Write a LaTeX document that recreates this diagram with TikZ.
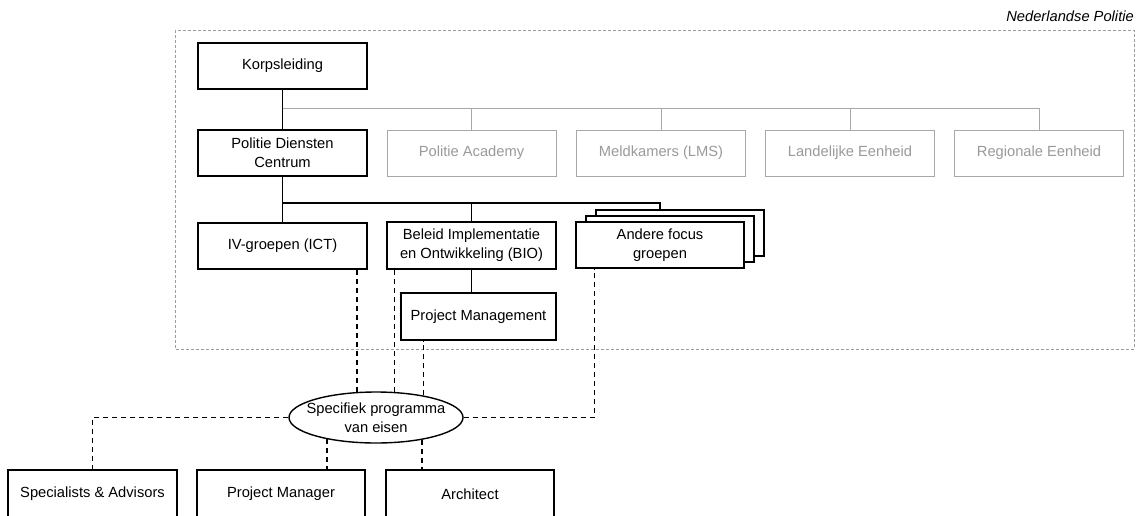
\documentclass[tikz,border=0pt]{standalone}
\usepackage{fontspec}
\setmainfont{Liberation Sans}
\usetikzlibrary{shapes.geometric,calc}
\newcommand\fsz{\fontsize{14.7}{19}\selectfont}
\definecolor{gline}{HTML}{A8A8A8}
\definecolor{gtext}{HTML}{9A9A9A}
\definecolor{frame}{HTML}{9C9C9C}
\tikzset{
  box/.style={draw=black, line width=1.4pt, fill=white, minimum width=169pt, minimum height=46pt, inner sep=0pt, align=center, font=\fsz},
  gbox/.style={box, draw=gline, line width=1pt, text=gtext},
  sline/.style={draw=black, line width=1.3pt},
  gconn/.style={draw=gline, line width=1pt},
  dconn/.style={draw=black, line width=1.6pt, dash pattern=on 5pt off 4pt},
  outer/.style={draw=frame, line width=0.9pt, dash pattern=on 3pt off 2pt}
}
\begin{document}
\begin{tikzpicture}[x=1pt,y=-1pt]
\useasboundingbox (0,0) rectangle (1139,515);
% outer frame
\draw[outer] (175,30) rectangle (1134,349);
\node[anchor=east, inner sep=0pt, font=\fsz\itshape] (np) at (1134,16) {Nederlandse Politie};

% top level
\node[box] (kl) at (282.5,66) {Korpsleiding};
\node[box] (pdc) at (282.5,153) {Politie Diensten\\Centrum};
\node[gbox] (pa) at (471.5,153) {Politie Academy};
\node[gbox] (mk) at (661,153) {Meldkamers (LMS)};
\node[gbox] (le) at (850,153) {Landelijke Eenheid};
\node[gbox] (re) at (1039,153) {Regionale Eenheid};

\coordinate (j1) at (282.5,108);
\draw[sline] (kl.south) -- (pdc.north);
\draw[gconn] (j1) -| (re.north);
\draw[gconn] (pa.north) -- (pa.north |- j1);
\draw[gconn] (mk.north) -- (mk.north |- j1);
\draw[gconn] (le.north) -- (le.north |- j1);

% second level
\node[box] (iv) at (282.5,246) {IV-groepen (ICT)};
\node[box, minimum height=47pt] (bio) at (471.5,245.5) {Beleid Implementatie\\en Ontwikkeling (BIO)};
\node[box, minimum width=168pt] (af3) at (680,233) {};
\node[box, minimum width=168pt] (af2) at (670,239) {};
\node[box, minimum width=168pt] (af) at (660,245) {Andere focus\\groepen};
\node[box, minimum width=155pt, minimum height=47pt] (pm) at (478.5,316.5) {Project Management};

\coordinate (j2) at (282.5,203);
\draw[sline] (pdc.south) -- (iv.north);
\draw[sline] (j2) -| (af.north |- af3.north);
\draw[sline] (bio.north) -- (bio.north |- j2);
\draw[sline] (bio.south) -- (bio.south |- pm.north);

% ellipse
\node[draw=black, line width=1.4pt, ellipse, minimum width=174pt, minimum height=51pt, inner sep=0pt] (ell) at (376,417.5) {};
\node[align=center, font=\fsz, inner sep=0pt] (elltxt) at (ell.center) {Specifiek programma\\van eisen};

% bottom boxes
\node[box, minimum height=48pt] (sa) at (92.5,494) {Specialists \& Advisors};
\node[box, minimum width=168pt, minimum height=48pt] (pmgr) at (281,494) {Project Manager};
\node[box, minimum width=168pt, minimum height=48pt] (arch) at (470,494) {Architect};

% dashed connectors
\draw[dconn] (ell.127.35) -- (ell.127.35 |- iv.south);
\draw[dconn] (ell.54.2) -- (ell.54.2 |- bio.south);
\draw[dconn] (ell.25.85) -- (ell.25.85 |- pm.south);
\draw[dconn] (ell.east) -| ($(af.south west)+(19,0)$);
\draw[dconn] (ell.west) -| (sa.north);
\draw[dconn] (ell.204.6) -- (ell.204.6 |- pmgr.north);
\draw[dconn] (ell.334.15) -- (ell.334.15 |- arch.north);
\end{tikzpicture}
\end{document}
